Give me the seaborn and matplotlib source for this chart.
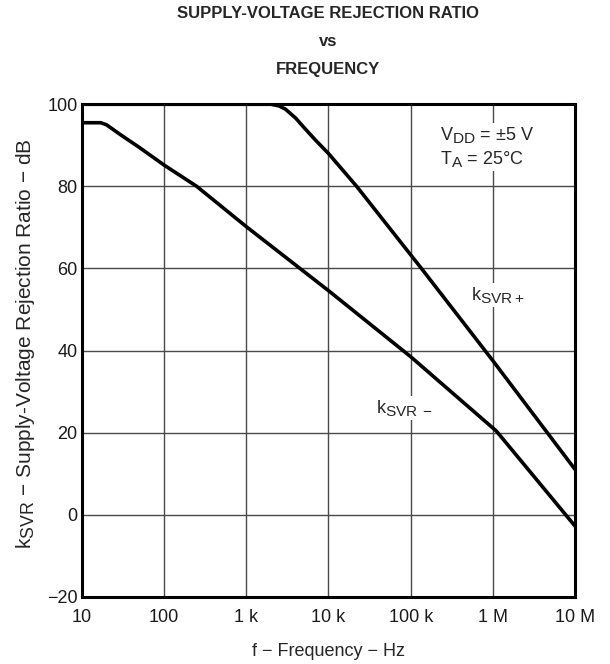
import numpy as np
import pandas as pd
import matplotlib
matplotlib.use("Agg")
import matplotlib.pyplot as plt
import matplotlib._mathtext as mtext
import seaborn as sns

# curve data
freq_pos = [10, 1000, 2000, 2500, 3000, 4000, 5000, 7000, 1e4, 2.2e4, 1.35e5, 1e6, 1e7]
ksvr_pos = [100, 100, 100, 99.6, 98.8, 96.6, 94.4, 91.2, 88, 80, 60, 37.5, 11]

freq_neg = [10, 17, 20, 30, 50, 100, 250, 1000, 1e4, 1e5, 1.1e6, 1e7]
ksvr_neg = [95.5, 95.5, 95, 92.5, 89.5, 85.2, 80, 70.2, 54.6, 38.5, 20.4, -2.8]

x_ticks = [10, 100, 1e3, 1e4, 1e5, 1e6, 1e7]
x_tick_labels = ["10", "100", "1 k", "10 k", "100 k", "1 M", "10 M"]
y_ticks = [-20, 0, 20, 40, 60, 80, 100]

sns.set_style("white")
plt.rcParams['font.family'] = ['Liberation Sans', 'DejaVu Sans']
plt.rcParams['mathtext.fontset'] = 'custom'
plt.rcParams['mathtext.rm'] = 'Liberation Sans'
# subscripts in the datasheet are only a little smaller than the text
mtext.SHRINK_FACTOR = 0.85

df = pd.concat([
    pd.DataFrame({"f": freq_pos, "k": ksvr_pos, "curve": "pos"}),
    pd.DataFrame({"f": freq_neg, "k": ksvr_neg, "curve": "neg"}),
])

fig = plt.figure(figsize=(6.10, 6.64), dpi=100)
ax = fig.add_axes([0.134, 0.101, 0.809, 0.742])

sns.lineplot(data=df, x="f", y="k", hue="curve", palette={"pos": "black", "neg": "black"},
             linewidth=2.6, legend=False, ax=ax, zorder=3, sort=False)

ax.set_xscale("log")
ax.set_xlim(10, 1e7)
ax.set_ylim(-20, 100)
ax.set_xticks(x_ticks)
ax.set_xticklabels(x_tick_labels)
ax.set_yticks(y_ticks)
ax.xaxis.set_minor_locator(matplotlib.ticker.NullLocator())
ax.tick_params(length=0, labelsize=13, colors="#1a1a1a")
ax.tick_params(axis="x", pad=9)
ax.tick_params(axis="y", pad=3)
ax.grid(True, color="#4a4a4a", linewidth=1.0)
for s in ax.spines.values():
    s.set_color("black")
    s.set_linewidth(2.2)
    s.set_zorder(4)

ax.set_xlabel("f − Frequency − Hz", fontsize=13, labelpad=12)
ax.set_ylabel(r"k$_\mathregular{SVR}$ − Supply-Voltage Rejection Ratio − dB", fontsize=15, labelpad=6)
ax.yaxis.set_label_coords(-0.09, 0.515)

fig.text(0.538, 0.991, "SUPPLY-VOLTAGE REJECTION RATIO\nvs\nFREQUENCY",
         ha="center", va="top", fontsize=12, fontweight="bold", linespacing=2.1)

box = dict(facecolor="white", edgecolor="none", pad=1.5)
ax.text(2.27e5, 95, r"V$_\mathregular{DD}$ = ±5 V" + "\n" + r"T$_\mathregular{A}$ = 25°C",
        ha="left", va="top", fontsize=13, bbox=box, zorder=2, linespacing=1.3)
ax.text(1.15e6, 53.5, r"k$_\mathregular{SVR+}$", ha="center", va="center", fontsize=13, bbox=box, zorder=2)
ax.text(8.3e4, 26, r"k$_\mathregular{SVR\,-}$", ha="center", va="center", fontsize=13, bbox=box, zorder=2)

fig.savefig("out.png", dpi=100, facecolor="white")
